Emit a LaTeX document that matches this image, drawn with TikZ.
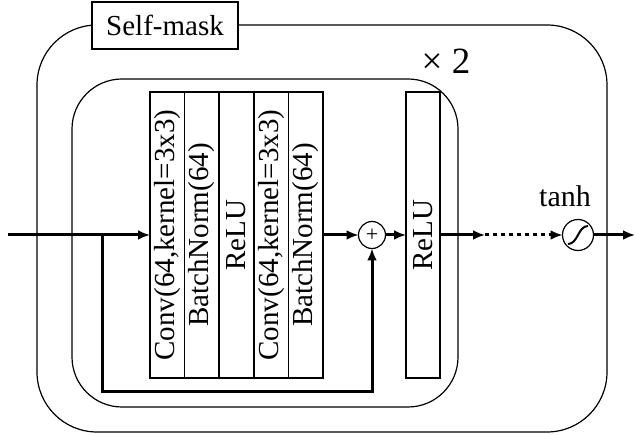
\documentclass[tikz,border=0pt]{standalone}
\usepackage{fontspec}
\setmainfont{Liberation Serif}
\usetikzlibrary{arrows.meta}

\tikzset{
  layer/.style={draw, line width=1.6pt, minimum width=34.6pt, minimum height=286pt,
    inner sep=0pt, outer sep=0pt, font=\fontsize{29}{30}\selectfont},
  group/.style={line width=1.2pt, rounded corners=#1},
  flow/.style={-{Latex[length=12pt,width=10pt]}, line width=3pt},
  opnode/.style={draw, circle, line width=1.2pt, inner sep=0pt, outer sep=0pt, fill=white}
}

\begin{document}
\begin{tikzpicture}[x=1pt,y=-1pt]
	\useasboundingbox (0,0) rectangle (635,435);
	% self-mask frame
	\draw[group=60] (37,25) rectangle (607,432);
	\node[draw, fill=white, line width=1.2pt, minimum width=146pt, minimum height=47pt,
	  font=\fontsize{29}{30}\selectfont] (title) at (165,25.5) {Self-mask};
	
	% residual block (x2)
	\draw[group=50] (72,79) rectangle (458,407);
	\node[font=\fontsize{37}{40}\selectfont] (rep) at (446,61) {× 2};
	
	\foreach \txt [count=\i] in {{Conv(64,kernel=3x3)}, {BatchNorm(64)}, ReLU,
	    {Conv(64,kernel=3x3)}, {BatchNorm(64)}}
	  \node[layer] (l\i) at (132.7+34.6*\i,235) {\rotatebox{90}{\txt}};
	
	\node[opnode, minimum size=27pt] (plus) at (372,235) {\fontsize{22}{22}\selectfont +};
	\node[layer, line width=1.2pt, minimum width=34pt] (relu) at (423,235) {\rotatebox{90}{ReLU}};
	
	% tanh
	\node[opnode, minimum size=31pt] (tanh) at (578,235) {};
	\draw[line width=2pt, shift={(tanh.center)}] (-10,9) .. controls (0,9) and (0,-9) .. (10,-9);
	\node[font=\fontsize{30}{30}\selectfont] (tanhlbl) at (565,196) {tanh};
	
	% connectors
	\coordinate (in) at (8,235);
	\coordinate (split) at (102,235);
	\coordinate (skip) at (102,392);
	\coordinate (dots) at (485,235);
	\coordinate (out) at (635,235);
	
	\draw[flow] (in) -- (l1.west);
	\draw[flow] (split) -- (skip) -| (plus.south);
	\draw[flow] (l5.east) -- (plus.west);
	\draw[flow] (plus.east) -- (relu.west);
	\draw[flow] (relu.east) -- (dots);
	\draw[flow, dash pattern=on 4pt off 4pt] (dots) -- (tanh.west);
	\draw[flow] (tanh.east) -- (out);
\end{tikzpicture}
\end{document}
